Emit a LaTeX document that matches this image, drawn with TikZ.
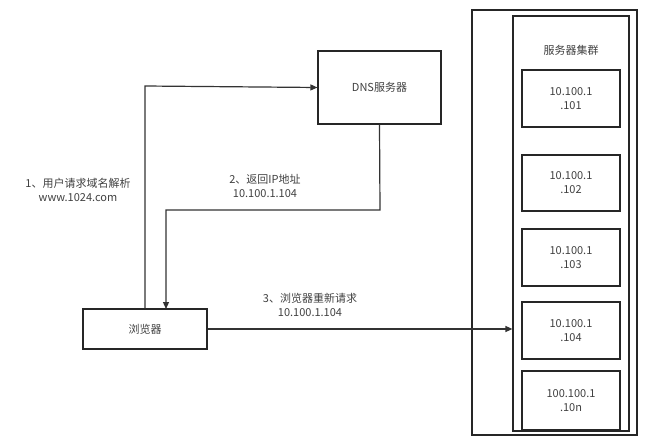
\documentclass[tikz,border=0pt]{standalone}
\usepackage{fontspec}
\setmainfont{Noto Sans CJK SC}
\usetikzlibrary{arrows.meta}
\begin{document}
\begin{tikzpicture}[x=1pt,y=-1pt,
  box/.style={draw=black!85,line width=1.2pt,inner sep=0pt},
  lbl/.style={font=\fontsize{11}{14}\selectfont,text=black!75,align=center},
  arr/.style={draw=black!80,line width=1.2pt,-{Triangle[length=7pt,width=6pt]}}]
\useasboundingbox (0,0) rectangle (656,444);
\node[box,minimum width=124pt,minimum height=40pt,lbl] (b) at (145,329) {浏览器};
\node[box,minimum width=123pt,minimum height=73pt,lbl] (d) at (379.5,87.5) {DNS服务器};
\node[box,minimum width=165pt,minimum height=425pt] (o) at (554.5,222.5) {};
\node[box,minimum width=116pt,minimum height=415pt] (i) at (571,223.5) {};
\node[lbl] (t) at (571,50) {服务器集群};
\node[box,minimum width=98pt,minimum height=57pt,lbl] (s1) at (571,98.5) {10.100.1\\.101};
\node[box,minimum width=98pt,minimum height=56pt,lbl] (s2) at (571,183) {10.100.1\\.102};
\node[box,minimum width=98pt,minimum height=57pt,lbl] (s3) at (571,257.5) {10.100.1\\.103};
\node[box,minimum width=98pt,minimum height=57pt,lbl] (s4) at (571,330.5) {10.100.1\\.104};
\node[box,minimum width=98pt,minimum height=59pt,lbl] (s5) at (571,400.5) {100.100.1\\.10n};
\draw[arr] (b.north) -- (145,86) -- (d.west);
\draw[arr] (d.south) -- (380,210) -- (166,210) -- (166,309);
\draw[arr] (b.east) -- (i.west |- b.east);
\node[lbl] (l1) at (78,190) {1、用户请求域名解析\\www.1024.com};
\node[lbl] (l2) at (265,186) {2、返回IP地址\\10.100.1.104};
\node[lbl] (l3) at (310,305) {3、浏览器重新请求\\10.100.1.104};
\end{tikzpicture}
\end{document}
